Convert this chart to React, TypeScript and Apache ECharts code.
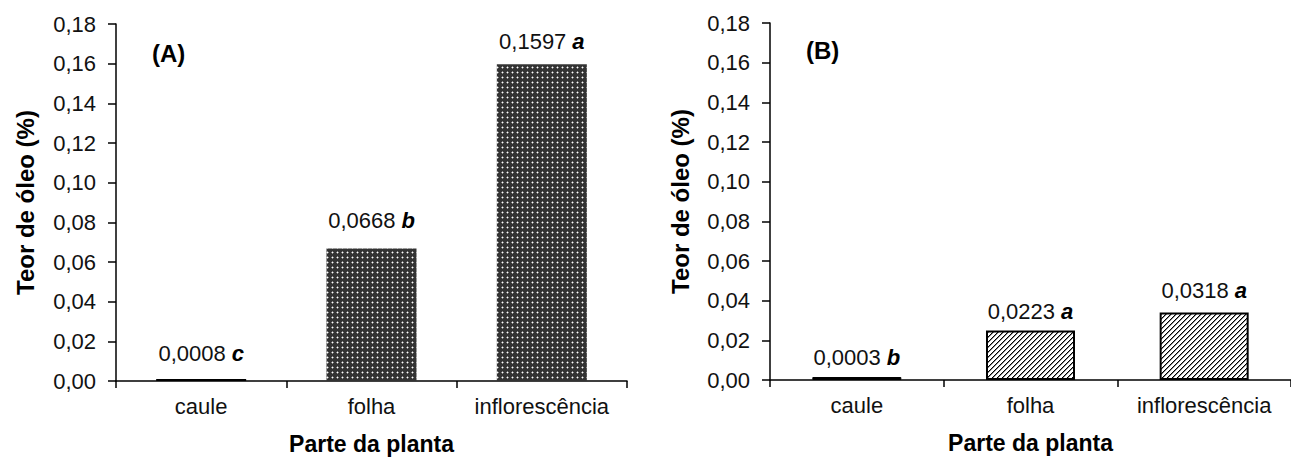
import React, { useEffect, useRef } from "react";
import * as echarts from "echarts";

const categories = ["caule", "folha", "inflorescência"];
const barsA = [0.0008, 0.0668, 0.1597];
const labelsA = ["0,0008", "0,0668", "0,1597"];
const lettersA = ["c", "b", "a"];
const barsB = [0.0015, 0.025, 0.034];
const labelsB = ["0,0003", "0,0223", "0,0318"];
const lettersB = ["b", "a", "a"];
const yMin = 0;
const yMax = 0.18;
const yStep = 0.02;
const yAxisTitle = "Teor de óleo (%)";
const xAxisTitle = "Parte da planta";
const panelTitles = ["(A)", "(B)"];

const FONT = 'Arial, "Liberation Sans", sans-serif';

function dotPattern(): HTMLCanvasElement {
  const c = document.createElement("canvas");
  c.width = 5;
  c.height = 5;
  const ctx = c.getContext("2d")!;
  ctx.fillStyle = "#333333";
  ctx.fillRect(0, 0, 5, 5);
  ctx.fillStyle = "#8a8a8a";
  ctx.fillRect(1, 2, 1, 1);
  ctx.fillRect(3, 2, 1, 1);
  ctx.fillRect(2, 1, 1, 1);
  ctx.fillRect(2, 3, 1, 1);
  ctx.fillStyle = "#ffffff";
  ctx.fillRect(2, 2, 1, 1);
  return c;
}

function hatchPattern(): HTMLCanvasElement {
  const c = document.createElement("canvas");
  c.width = 5;
  c.height = 5;
  const ctx = c.getContext("2d")!;
  ctx.fillStyle = "#ffffff";
  ctx.fillRect(0, 0, 5, 5);
  ctx.fillStyle = "#000000";
  for (let i = 0; i < 5; i++) {
    ctx.fillRect(4 - i, i, 1, 1);
  }
  ctx.fillStyle = "#888888";
  for (let i = 0; i < 5; i++) {
    ctx.fillRect((5 - i) % 5, i, 1, 1);
  }
  return c;
}

export default function App() {
  const ref = useRef<HTMLDivElement>(null);
  useEffect(() => {
    document.body.style.margin = "0";
    const chart = echarts.init(ref.current!, null, { renderer: "svg" });
    const dots = { image: dotPattern(), repeat: "repeat" };
    const hatch = { image: hatchPattern(), repeat: "repeat" };

    const yAxisCommon = (gridIndex: number, gap: number) => ({
      type: "value",
      gridIndex,
      min: yMin,
      max: yMax,
      interval: yStep,
      name: yAxisTitle,
      nameLocation: "middle",
      nameGap: gap,
      nameTextStyle: { fontFamily: FONT, fontWeight: "bold", fontSize: 24, color: "#000" },
      splitLine: { show: false },
      axisLine: { show: true, lineStyle: { color: "#000", width: 1.5 } },
      axisTick: { show: true, length: 8, lineStyle: { color: "#000", width: 1.5 } },
      axisLabel: {
        margin: 20,
        fontFamily: FONT,
        fontSize: 22,
        color: "#111",
        formatter: (v: number) => v.toFixed(2).replace(".", ","),
      },
    });
    const xAxisCommon = (gridIndex: number) => ({
      type: "category",
      gridIndex,
      data: categories,
      name: xAxisTitle,
      nameLocation: "middle",
      nameGap: 51,
      nameTextStyle: { fontFamily: FONT, fontWeight: "bold", fontSize: 23, color: "#000" },
      axisLine: { show: true, lineStyle: { color: "#000", width: 1.5 } },
      axisTick: { show: true, interval: 0, length: 7, lineStyle: { color: "#000", width: 1.5 } },
      axisLabel: { interval: 0, margin: 14, fontFamily: FONT, fontSize: 22, color: "#111" },
    });
    const rich = {
      v: { fontFamily: FONT, fontSize: 22, color: "#111", padding: [0, 6, 0, 0] },
      l: { fontFamily: FONT, fontSize: 22, fontWeight: "bold", fontStyle: "italic", color: "#000" },
    };
    const distA = [15, 17, 12];
    const distB = [9, 8, 11];

    chart.setOption({
      animation: false,
      backgroundColor: "#fff",
      grid: [
        { left: 116, right: 664, top: 24, bottom: 93 },
        { left: 770, right: -4, top: 23, bottom: 94 },
      ],
      xAxis: [xAxisCommon(0), xAxisCommon(1)],
      yAxis: [yAxisCommon(0, 79), yAxisCommon(1, 78)],
      graphic: [
        {
          type: "text",
          left: 152,
          top: 41,
          style: { text: panelTitles[0], fontFamily: FONT, fontWeight: "bold", fontSize: 24, fill: "#000" },
        },
        {
          type: "text",
          left: 806,
          top: 38,
          style: { text: panelTitles[1], fontFamily: FONT, fontWeight: "bold", fontSize: 24, fill: "#000" },
        },
      ],
      series: [
        {
          type: "bar",
          xAxisIndex: 0,
          yAxisIndex: 0,
          barWidth: 90,
          barMinHeight: 2,
          data: barsA.map((v, i) => ({
            value: v,
            itemStyle: i === 0 ? { color: "#000" } : { color: dots },
            label: {
              show: true,
              position: "top",
              distance: distA[i],
              formatter: `{v|${labelsA[i]}}{l|${lettersA[i]}}`,
              rich,
            },
          })),
        },
        {
          type: "bar",
          xAxisIndex: 1,
          yAxisIndex: 1,
          barWidth: 89,
          data: barsB.map((v, i) => ({
            value: v,
            itemStyle:
              i === 0
                ? { color: "#000", borderColor: "#000", borderWidth: 1 }
                : { color: hatch, borderColor: "#000", borderWidth: 2 },
            label: {
              show: true,
              position: "top",
              distance: distB[i],
              formatter: `{v|${labelsB[i]}}{l|${lettersB[i]}}`,
              rich,
            },
          })),
        },
      ],
    });
    return () => chart.dispose();
  }, []);
  return <div ref={ref} style={{ width: 1291, height: 474 }} />;
}
